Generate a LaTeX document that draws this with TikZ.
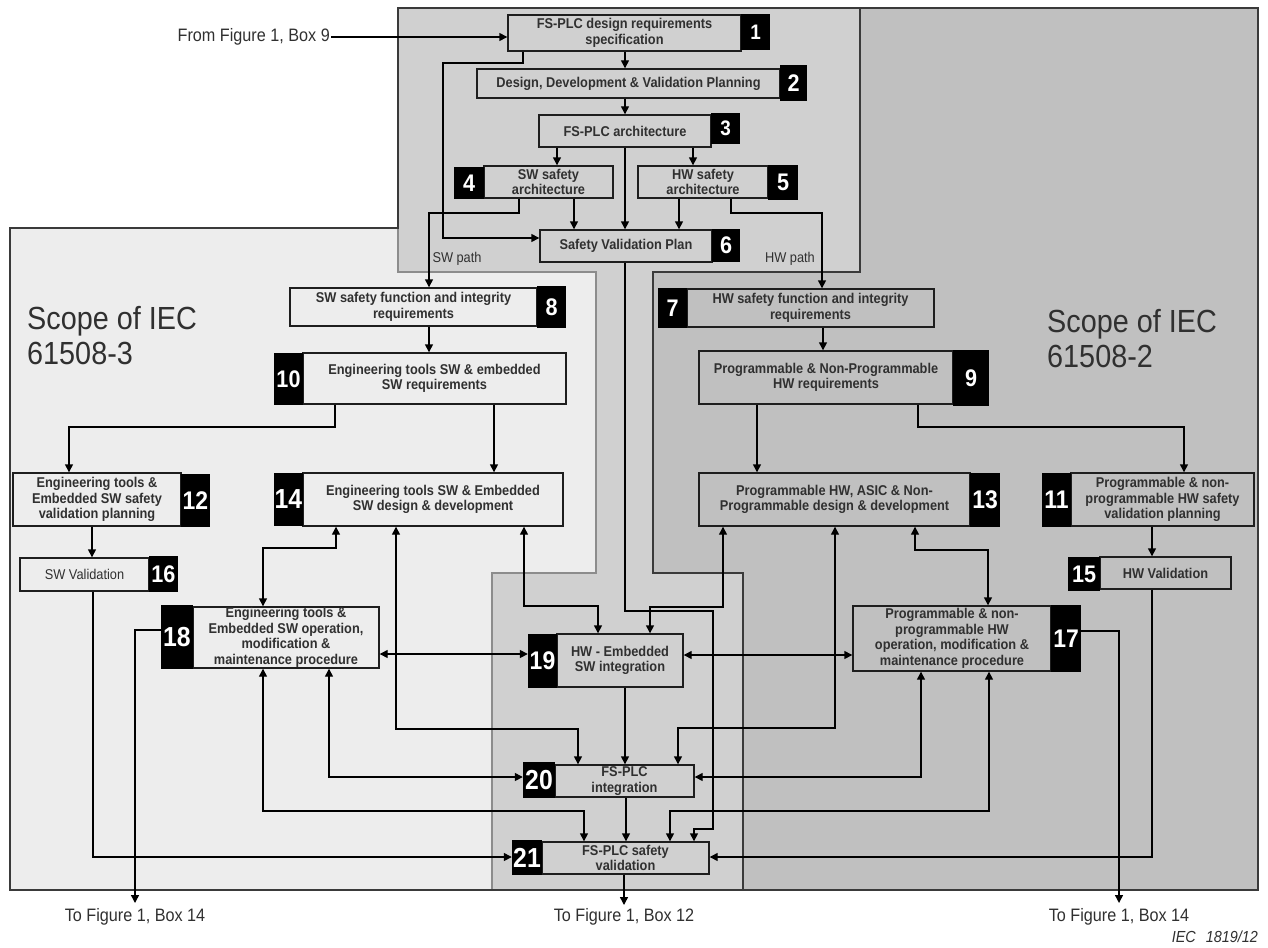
\documentclass[tikz,border=0pt]{standalone}
\usepackage{fontspec}
\setmainfont{Liberation Sans}[FakeStretch=0.9]
\usetikzlibrary{arrows.meta}
\definecolor{lightreg}{HTML}{EDEDED}
\definecolor{midreg}{HTML}{D0D0D0}
\definecolor{darkreg}{HTML}{C0C0C0}
\definecolor{txt}{HTML}{303030}
\definecolor{edge}{HTML}{1E1E1E}
\definecolor{regline}{HTML}{8C8C8C}
\definecolor{regdark}{HTML}{3A3A3A}
\newcommand\mkbx[7]{\node[#6, minimum width={(#4)-(#2)}, minimum height={(#5)-(#3)}] (#1) at ({((#2)+(#4))/2},{((#3)+(#5))/2}) {#7};}
\tikzset{
 bx/.style={draw=edge, line width=1.4pt, inner sep=0pt, align=center, text=txt, font=\bfseries\fontsize{14.2}{15.5}\selectfont},
 bxreg/.style={bx, font=\fontsize{14.2}{15.5}\selectfont},
 num/.style={fill=black, draw=none, inner sep=0pt, text=white, font=\bfseries\fontsize{24}{24}\selectfont},
 numS/.style={num, font=\bfseries\fontsize{21}{21}\selectfont},
 numM/.style={num, font=\bfseries\fontsize{25.5}{25.5}\selectfont},
 numL/.style={num, font=\bfseries\fontsize{27.5}{27.5}\selectfont},
 conn/.style={draw=black, line width=1.4pt, -{Triangle[length=8pt,width=8pt]}},
 dconn/.style={draw=black, line width=1.4pt, {Triangle[length=8pt,width=8pt]}-{Triangle[length=8pt,width=8pt]}},
 lbl/.style={text=txt, inner sep=1pt, font=\fontsize{18}{20}\selectfont},
 pathlbl/.style={text=txt, inner sep=0pt, font=\fontsize{14.2}{16}\selectfont},
 scopelbl/.style={text=txt, inner sep=0pt, align=left, font=\fontsize{32}{35}\selectfont},
}
\begin{document}
\begin{tikzpicture}[x=1pt,y=-1pt]
\useasboundingbox (0,0) rectangle (1268,947);
% regions
\fill[lightreg] (10,228) -- (398,228) -- (398,272) -- (596,272) -- (596,573) -- (492,573) -- (492,890) -- (10,890) -- cycle;
\fill[midreg] (398,8) -- (860,8) -- (860,272) -- (653,272) -- (653,573) -- (743,573) -- (743,890) -- (492,890) -- (492,573) -- (596,573) -- (596,272) -- (398,272) -- cycle;
\fill[darkreg] (860,8) -- (1258,8) -- (1258,890) -- (743,890) -- (743,573) -- (653,573) -- (653,272) -- (860,272) -- cycle;
\draw[regline, line width=1.2pt] (398,228) -- (398,272) -- (596,272) -- (596,573) -- (492,573) -- (492,890);
\draw[regdark, line width=1.2pt] (860,8) -- (860,272) -- (653,272) -- (653,573) -- (743,573) -- (743,890);
\draw[regdark, line width=1.4pt] (10,228) -- (398,228) -- (398,8) -- (1258,8) -- (1258,890) -- (10,890) -- cycle;
% labels
\node[scopelbl, anchor=west] (sc3) at (27,336) {Scope of IEC\\61508-3};
\node[scopelbl, anchor=west] (sc2) at (1047,339) {Scope of IEC\\61508-2};
\node[pathlbl] (swp) at (457,259) {SW path};
\node[pathlbl] (hwp) at (790,259) {HW path};
% boxes
\mkbx{b1}{508}{15}{741}{51}{bx}{FS-PLC design requirements\\specification}
\mkbx{n1}{741}{14}{770}{50}{numS}{1}
\mkbx{b2}{477}{69}{780}{98}{bx}{Design, Development \& Validation Planning}
\mkbx{n2}{780}{65}{807}{101}{num}{2}
\mkbx{b3}{539}{115}{711}{147}{bx}{FS-PLC architecture}
\mkbx{n3}{711}{113}{740}{144}{numS}{3}
\mkbx{b4}{484}{166}{613}{198}{bx}{SW safety\\architecture}
\mkbx{n4}{454}{167}{484}{199}{num}{4}
\mkbx{b5}{638}{166}{768}{198}{bx}{HW safety\\architecture}
\mkbx{n5}{768}{165}{798}{200}{num}{5}
\mkbx{b6}{540}{230}{712}{262}{bx}{Safety Validation Plan}
\mkbx{n6}{712}{229}{740}{262}{num}{6}
\mkbx{b7}{687}{289}{934}{327}{bx}{HW safety function and integrity\\requirements}
\mkbx{n7}{658}{288}{687}{328}{num}{7}
\mkbx{b8}{290}{288}{537}{326}{bx}{SW safety function and integrity\\requirements}
\mkbx{n8}{537}{286}{566}{328}{num}{8}
\mkbx{b9}{699}{351}{953}{404}{bx}{Programmable \& Non-Programmable\\HW requirements}
\mkbx{n9}{953}{350}{989}{406}{num}{9}
\mkbx{b10}{303}{353}{566}{404}{bx}{Engineering tools SW \& embedded\\SW requirements}
\mkbx{n10}{274}{353}{303}{405}{num}{10}
\mkbx{b11}{1071}{473}{1254}{526}{bx}{Programmable \& non-\\programmable HW safety\\validation planning}
\mkbx{n11}{1042}{473}{1071}{527}{numM}{11}
\mkbx{b12}{13}{473}{181}{526}{bx}{Engineering tools \&\\Embedded SW safety\\validation planning}
\mkbx{n12}{181}{474}{210}{527}{numM}{12}
\mkbx{b13}{699}{473}{970}{526}{bx}{Programmable HW, ASIC \& Non-\\Programmable design \& development}
\mkbx{n13}{970}{473}{1000}{527}{numM}{13}
\mkbx{b14}{303}{473}{563}{526}{bx}{Engineering tools SW \& Embedded\\SW design \& development}
\mkbx{n14}{274}{473}{303}{526}{numL}{14}
\mkbx{b15}{1100}{557}{1231}{589}{bx}{HW Validation}
\mkbx{n15}{1068}{557}{1100}{591}{num}{15}
\mkbx{b16}{20}{558}{149}{591}{bxreg}{SW Validation}
\mkbx{n16}{149}{556}{178}{592}{num}{16}
\mkbx{b17}{853}{606}{1051}{671}{bx}{Programmable \& non-\\programmable HW\\operation, modification \&\\maintenance procedure}
\mkbx{n17}{1051}{605}{1081}{672}{numM}{17}
\mkbx{b18}{193}{607}{379}{668}{bx}{Engineering tools \&\\Embedded SW operation,\\modification \&\\maintenance procedure}
\mkbx{n18}{161}{605}{193}{669}{numL}{18}
\mkbx{b19}{557}{634}{683}{687}{bx}{HW - Embedded\\SW integration}
\mkbx{n19}{528}{634}{557}{688}{numM}{19}
\mkbx{b20}{555}{765}{694}{797}{bx}{FS-PLC\\integration}
\mkbx{n20}{523}{762}{555}{798}{numL}{20}
\mkbx{b21}{542}{842}{709}{874}{bx}{FS-PLC safety\\validation}
\mkbx{n21}{512}{840}{542}{875}{numL}{21}
% outside texts
\node[lbl, anchor=east] (tfrom) at (331,37) {From Figure 1, Box 9};
\coordinate (o18) at (135,903);
\coordinate (o17) at (1119,903);
\coordinate (o21) at (624,905);
\node[lbl] (t18) at (135,917) {To Figure 1, Box 14};
\node[lbl] (t21) at (624,917) {To Figure 1, Box 12};
\node[lbl] (t17) at (1119,917) {To Figure 1, Box 14};
\node[anchor=east, inner sep=0pt, text=txt, font=\itshape\fontsize{16}{18}\selectfont] (iec) at (1258,937) {IEC\hspace{10pt}1819/12};
% connectors
\draw[conn] (tfrom.east) -- (tfrom.east -| b1.west);
\draw[conn] (b1.south -| 625,0) -- (b2.north -| 625,0);
\draw[conn] (b2.south -| 625,0) -- (b3.north -| 625,0);
\draw[conn] (b3.south -| 557,0) -- (b4.north -| 557,0);
\draw[conn] (b3.south -| 693,0) -- (b5.north -| 693,0);
\draw[conn] (b3.south -| 625,0) -- (b6.north -| 625,0);
\draw[conn] (b4.south -| 574,0) -- (b6.north -| 574,0);
\draw[conn] (b5.south -| 679,0) -- (b6.north -| 679,0);
\draw[conn] (b1.south -| 523,0) |- (443,63) |- (b6.west |- 0,238);
\draw[conn] (b4.south -| 519,0) |- (429,213) -- (b8.north -| 429,0);
\draw[conn] (b5.south -| 731,0) |- (822,213) -- (b7.north -| 822,0);
\draw[conn] (b6.south -| 625,0) |- (713,611) |- (694,829) -- (b21.north -| 694,0);
\draw[conn] (b8.south -| 429,0) -- (b10.north -| 429,0);
\draw[conn] (b7.south -| 823,0) -- (b9.north -| 823,0);
\draw[conn] (b10.south -| 335,0) |- (69,427) -- (b12.north -| 69,0);
\draw[conn] (b10.south -| 494,0) -- (b14.north -| 494,0);
\draw[conn] (b9.south -| 757,0) -- (b13.north -| 757,0);
\draw[conn] (b9.south -| 918,0) |- (1184,427) -- (b11.north -| 1184,0);
\draw[conn] (b12.south -| 92,0) -- (b16.north -| 92,0);
\draw[conn] (b11.south -| 1152,0) -- (b15.north -| 1152,0);
\draw[dconn] (b14.south -| 336,0) |- (263,548) -- (b18.north -| 263,0);
\draw[dconn] (b14.south -| 396,0) |- (578,729) -- (b20.north -| 578,0);
\draw[dconn] (b14.south -| 524,0) |- (598,606) -- (b19.north -| 598,0);
\draw[dconn] (b13.south -| 723,0) |- (650,607) -- (b19.north -| 650,0);
\draw[dconn] (b13.south -| 835,0) |- (678,728) -- (b20.north -| 678,0);
\draw[dconn] (b13.south -| 915,0) |- (988,550) -- (b17.north -| 988,0);
\draw[dconn] (b18.east |- 0,654) -- (n19.west |- 0,654);
\draw[dconn] (b19.east |- 0,655) -- (b17.west |- 0,655);
\draw[conn] (b19.south -| 625,0) -- (b20.north -| 625,0);
\draw[conn] (b20.south -| 626,0) -- (b21.north -| 626,0);
\draw[dconn] (b18.south -| 329,0) |- (n20.west |- 0,777);
\draw[dconn] (b18.south -| 263,0) |- (584,811) -- (b21.north -| 584,0);
\draw[dconn] (b17.south -| 921,0) |- (b20.east |- 0,777);
\draw[dconn] (b17.south -| 989,0) |- (670,811) -- (b21.north -| 670,0);
\draw[conn] (b16.south -| 93,0) |- (n21.west |- 0,857);
\draw[conn] (b15.south -| 1152,0) |- (b21.east |- 0,857);
\draw[conn] (n18.west |- 0,630) -| (o18);
\draw[conn] (n17.east |- 0,631) -| (o17);
\draw[conn] (b21.south -| 624,0) -- (o21);
\end{tikzpicture}
\end{document}
